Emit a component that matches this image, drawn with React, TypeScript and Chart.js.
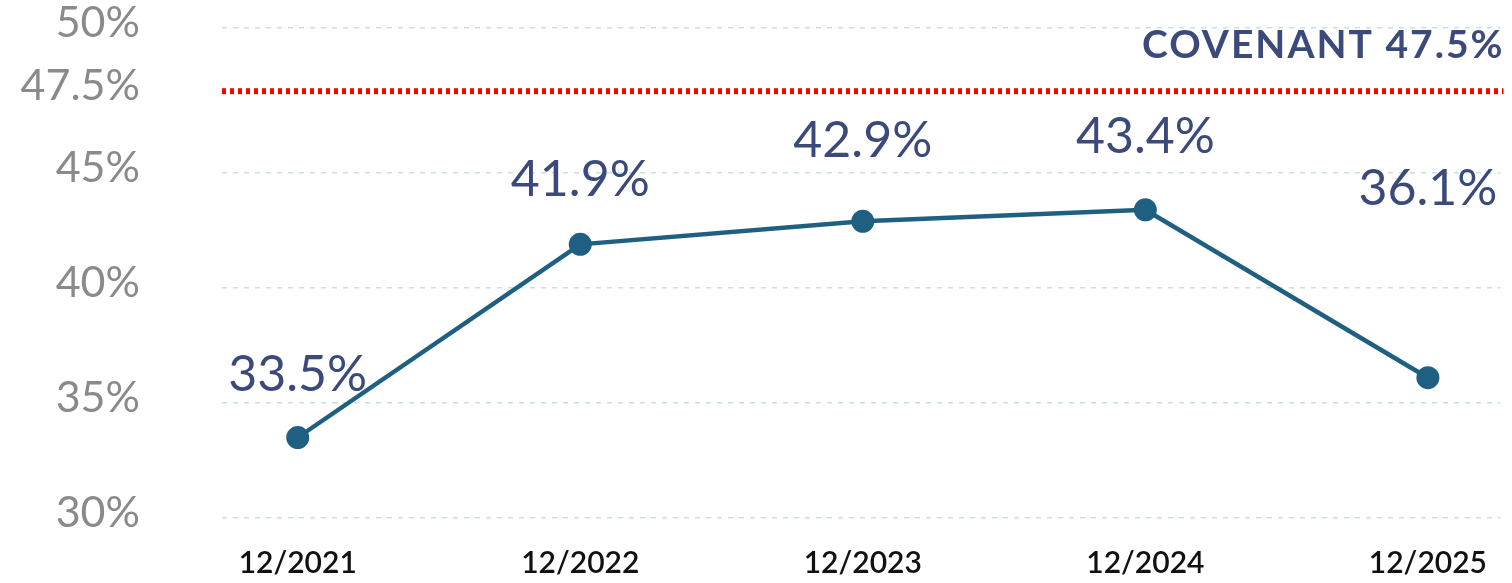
import React, { useEffect, useRef } from 'react';
import { Chart, registerables, LinearScale } from 'chart.js';

// ---------- data ----------
const categories = ['12/2021', '12/2022', '12/2023', '12/2024', '12/2025'];
const ratioValues = [33.5, 41.9, 42.9, 43.4, 36.1];
const yTickValues = [30, 35, 40, 45, 47.5, 50];
const covenantValue = 47.5;
const covenantLabel = 'COVENANT 47.5%';

// ---------- style ----------
// the source axis is stretched unevenly: [value, fraction of axis height]
const Y_KNOTS: number[][] = [[30, 0], [45, 0.704], [47.5, 0.871], [50, 1]];
const LABEL_LIFT = [63, 64, 80, 73, 189];
const FONT = 'Lato, "Open Sans", sans-serif';
const NAVY = '#3b4a7a';
const LINE = '#1f6082';
const GREY = '#8a8a8a';
const GRID = '#c9e1dd';
const CLEAR = 'rgba(0,0,0,0)';

function warpFwd(v: number): number {
  const k = Y_KNOTS;
  let i = 0;
  while (i < k.length - 2 && v > k[i + 1][0]) i++;
  const [v0, f0] = k[i];
  const [v1, f1] = k[i + 1];
  return f0 + ((v - v0) / (v1 - v0)) * (f1 - f0);
}
function warpInv(d: number): number {
  const k = Y_KNOTS;
  let i = 0;
  while (i < k.length - 2 && d > k[i + 1][1]) i++;
  const [v0, f0] = k[i];
  const [v1, f1] = k[i + 1];
  return v0 + ((d - f0) / (f1 - f0)) * (v1 - v0);
}

class WarpScale extends LinearScale {
  static id = 'warp';
  static defaults = (LinearScale as any).defaults;
  getPixelForValue(value: number) {
    if (value === null || value === undefined) return NaN;
    return (this as any).getPixelForDecimal(warpFwd(value));
  }
  getValueForPixel(pixel: number) {
    return warpInv((this as any).getDecimalForPixel(pixel));
  }
}

Chart.register(...registerables, WarpScale as any);

const covenantPlugin = {
  id: 'covenant',
  beforeDatasetsDraw(chart: any) {
    const { ctx, chartArea, scales } = chart;
    const y = scales.y.getPixelForValue(covenantValue);
    ctx.save();
    ctx.strokeStyle = '#ff0000';
    ctx.lineWidth = 6;
    ctx.setLineDash([4, 4]);
    ctx.beginPath();
    ctx.moveTo(chartArea.left, y);
    ctx.lineTo(chartArea.right + 3, y);
    ctx.stroke();
    ctx.setLineDash([]);
    ctx.fillStyle = NAVY;
    ctx.font = `bold 39px ${FONT}`;
    (ctx as any).letterSpacing = '2px';
    ctx.textAlign = 'right';
    ctx.textBaseline = 'middle';
    ctx.fillText(covenantLabel, chartArea.right + 4, y - 46);
    ctx.restore();
  },
};

const valueLabelPlugin = {
  id: 'valueLabels',
  afterDatasetsDraw(chart: any) {
    const { ctx } = chart;
    const meta = chart.getDatasetMeta(0);
    ctx.save();
    ctx.fillStyle = NAVY;
    ctx.font = `50px ${FONT}`;
    ctx.textAlign = 'center';
    ctx.textBaseline = 'middle';
    meta.data.forEach((pt: any, i: number) => {
      ctx.fillText(ratioValues[i].toFixed(1) + '%', pt.x, pt.y - LABEL_LIFT[i]);
    });
    ctx.restore();
  },
};

export default function App() {
  const ref = useRef<HTMLCanvasElement>(null);
  useEffect(() => {
    document.body.style.margin = '0';
    document.body.style.background = '#ffffff';
    const chart = new Chart(ref.current as HTMLCanvasElement, {
      type: 'line',
      data: {
        datasets: [
          {
            data: ratioValues.map((v, i) => ({ x: i, y: v })),
            borderColor: LINE,
            backgroundColor: LINE,
            borderWidth: 4.5,
            pointRadius: 11.5,
            pointHoverRadius: 11.5,
            pointBackgroundColor: LINE,
            pointBorderWidth: 0,
            tension: 0,
            fill: false,
          },
        ],
      },
      options: {
        animation: false,
        responsive: false,
        devicePixelRatio: 1,
        events: [],
        layout: { padding: { top: 28, right: 7, left: 0, bottom: 0 } },
        plugins: { legend: { display: false }, tooltip: { enabled: false } },
        scales: {
          x: {
            type: 'linear',
            min: -0.268,
            max: 4.257,
            grid: {
              display: true,
              drawOnChartArea: false,
              drawTicks: true,
              tickLength: 27,
              color: CLEAR,
              tickColor: CLEAR,
            },
            border: { display: false },
            afterBuildTicks: (s: any) => {
              s.ticks = categories.map((_, i) => ({ value: i }));
            },
            afterFit: (s: any) => {
              s.height = 65;
            },
            ticks: {
              autoSkip: false,
              maxRotation: 0,
              padding: 0,
              color: '#111111',
              font: { family: FONT, size: 30, weight: '600' },
              callback: (v: any) => categories[v as number] ?? '',
            },
          },
          y: {
            type: 'warp' as any,
            min: 30,
            max: 50,
            afterBuildTicks: (s: any) => {
              s.ticks = yTickValues.map((v) => ({ value: v }));
            },
            afterFit: (s: any) => {
              s.width = 222;
            },
            border: { display: false, dash: [5, 6] },
            grid: {
              drawTicks: true,
              tickLength: 82,
              tickColor: CLEAR,
              lineWidth: 1.5,
              color: (c: any) =>
                c.tick && c.tick.value === covenantValue ? CLEAR : GRID,
            },
            ticks: {
              padding: 0,
              labelOffset: -5,
              color: GREY,
              font: { family: FONT, size: 43 },
              callback: (v: any) => `${v}%`,
            },
          },
        },
      },
      plugins: [covenantPlugin, valueLabelPlugin],
    } as any);
    return () => chart.destroy();
  }, []);
  return (
    <div style={{ width: 1512, height: 583, background: '#fff' }}>
      <canvas ref={ref} width={1512} height={583} style={{ display: 'block' }} />
    </div>
  );
}
